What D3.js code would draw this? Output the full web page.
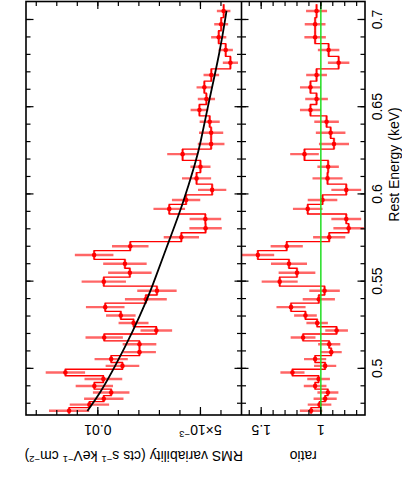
<!DOCTYPE html>
<html><head><meta charset="utf-8">
<script src="https://cdn.jsdelivr.net/npm/d3@7"></script>
<style>
body{margin:0;background:#fff}
svg{display:block}
text{font-family:"Liberation Sans",Arial,Helvetica,sans-serif;fill:#000}
</style>
</head><body>
<svg id="c" width="402" height="491"></svg>
<script>
// ---- data (bin centres in keV) ----
const energy = [0.7049,0.6973,0.6898,0.6825,0.6752,0.6682,0.6611,0.6544,0.6481,0.6414,
  0.6351,0.6286,0.6228,0.6156,0.6089,0.6023,0.5965,0.5914,0.5856,0.5803,
  0.5752,0.5700,0.5650,0.5600,0.5548,0.5497,0.5445,0.5396,0.5351,0.5303,
  0.5260,0.5217,0.5177,0.5138,0.5093,0.5053,0.5014,0.4976,0.4939,0.4899,
  0.4862,0.4826,0.4792,0.4757];
const rms = [0.00387,0.00399,0.00411,0.00377,0.00354,0.00447,0.00481,0.00471,0.00505,0.00455,
  0.00448,0.00448,0.00587,0.00500,0.00519,0.00443,0.00570,0.00652,0.00476,0.00475,
  0.00593,0.00842,0.01018,0.00868,0.00844,0.00971,0.00712,0.00766,0.00964,0.00888,
  0.00826,0.00715,0.00969,0.00797,0.00797,0.00935,0.00880,0.01158,0.00973,0.01017,
  0.00935,0.00971,0.01041,0.01140];
const rmsErr = [0.00033,0.00034,0.00037,0.00035,0.00037,0.00038,0.00038,0.00042,0.00043,0.00049,
  0.00059,0.00065,0.00075,0.00049,0.00071,0.00069,0.00069,0.00077,0.00077,0.00079,
  0.00086,0.00089,0.00094,0.00106,0.00106,0.00108,0.00096,0.00102,0.00094,0.00072,
  0.00073,0.00077,0.00091,0.00082,0.00080,0.00081,0.00082,0.00096,0.00092,0.00091,
  0.00089,0.00096,0.00096,0.00098];
const ratio = [1.036,1.048,1.048,0.935,0.851,1.036,1.087,1.036,1.087,0.952,
  0.918,0.890,1.137,0.939,0.944,0.787,0.986,1.110,0.787,0.767,
  0.930,1.286,1.528,1.267,1.200,1.345,0.969,1.017,1.250,1.129,
  1.031,0.868,1.149,0.930,0.913,1.048,0.964,1.238,1.019,1.048,
  0.941,0.964,1.011,1.082];
const ratioErr = [0.088,0.087,0.090,0.090,0.090,0.087,0.088,0.095,0.088,0.103,
  0.124,0.126,0.120,0.090,0.126,0.125,0.124,0.124,0.125,0.128,
  0.135,0.135,0.137,0.151,0.154,0.151,0.128,0.135,0.122,0.095,
  0.090,0.095,0.104,0.093,0.088,0.093,0.093,0.101,0.095,0.095,
  0.088,0.097,0.099,0.094];
// model curve samples
const modelE   = [0.4756,0.4857,0.5010,0.5220,0.5392,0.5488,0.5751,0.5927,0.6195,0.6290,0.6481,0.6825,0.7049];
const modelRms = [0.01051,0.00989,0.00916,0.00826,0.00761,0.00729,0.00647,0.00590,0.00520,0.00500,0.00468,0.00403,0.00373];
// ticks
const energyMajor = [0.5,0.55,0.6,0.65,0.7];
const energyTickLabels = ["0.5","0.55","0.6","0.65","0.7"];
const energyMinor = [0.48,0.49,0.5,0.51,0.52,0.53,0.54,0.55,0.56,0.57,0.58,0.59,0.6,0.61,0.62,0.63,0.64,0.65,0.66,0.67,0.68,0.69,0.7];
const rmsMajor = [0.005,0.01];
const rmsMinor = [0.004,0.005,0.006,0.007,0.008,0.009,0.01,0.011,0.012,0.013];
const ratioMajor = [1,1.5];
const ratioTickLabels = ["1","1.5"];
const ratioMinor = [0.7,0.8,0.9,1.0,1.1,1.2,1.3,1.4,1.5,1.6];

// ---- layout ----
const svg = d3.select("#c");
const T = 1.5, B = 415, L = 26, M = 241.5, R = 365;
const yE = d3.scaleLinear().domain([0.47326,0.71031]).range([B,T]);
const xV = d3.scaleLinear().domain([0.003,0.0135]).range([M,L]);
const xQ = d3.scaleLinear().domain([0.63,1.665]).range([R,M]);

// bin edges
const edges = [];
for (let i=0;i<energy.length;i++){
  const lo = i<energy.length-1 ? (energy[i]+energy[i+1])/2 : energy[i]-(energy[i-1]-energy[i])/2;
  const hi = i>0 ? (energy[i]+energy[i-1])/2 : energy[i]+(energy[i]-energy[i+1])/2;
  edges.push([lo,hi]);
}

const defs = svg.append("defs");
defs.append("clipPath").attr("id","cl").append("rect").attr("x",L).attr("y",T).attr("width",M-L).attr("height",B-T);
defs.append("clipPath").attr("id","cr").append("rect").attr("x",M).attr("y",T).attr("width",R-M).attr("height",B-T);

function panel(clip, xs, vals, errs){
  const g = svg.append("g").attr("clip-path",`url(#${clip})`);
  const eb = g.append("g").attr("stroke","#ff0000").attr("stroke-opacity",0.6).attr("stroke-width",2.4);
  vals.forEach((v,i)=>{
    eb.append("line").attr("x1",xs(v-errs[i])).attr("x2",xs(v+errs[i]))
      .attr("y1",yE(energy[i])).attr("y2",yE(energy[i]));
    eb.append("line").attr("x1",xs(v)).attr("x2",xs(v))
      .attr("y1",yE(edges[i][0])).attr("y2",yE(edges[i][1]));
  });
  const pts = [];
  vals.forEach((v,i)=>{ pts.push([edges[i][1],v]); pts.push([edges[i][0],v]); });
  g.append("path").datum(pts).attr("fill","none").attr("stroke","#f00").attr("stroke-width",1.3)
    .attr("d",d3.line().x(d=>xs(d[1])).y(d=>yE(d[0])));
  g.append("g").selectAll("circle").data(vals).join("circle")
    .attr("cx",d=>xs(d)).attr("cy",(d,i)=>yE(energy[i])).attr("r",2.3).attr("fill","#f00");
  return g;
}

const gl = panel("cl", xV, rms, rmsErr);
gl.append("path").datum(modelE.map((e,i)=>[e,modelRms[i]]))
  .attr("fill","none").attr("stroke","#000").attr("stroke-width",1.8)
  .attr("d",d3.line().curve(d3.curveBasis).x(d=>xV(d[1])).y(d=>yE(d[0])));

const gr = panel("cr", xQ, ratio, ratioErr);
gr.append("line").attr("x1",xQ(1)).attr("x2",xQ(1)).attr("y1",T).attr("y2",B)
  .attr("stroke","#22dd22").attr("stroke-width",1.5);

// ---- axes (ticks) ----
function ax(gen, tx, ty, vals, size){
  const g = svg.append("g").attr("transform",`translate(${tx},${ty})`)
    .call(gen.tickValues(vals).tickSize(size).tickFormat("").offset(0));
  g.select(".domain").remove();
  g.selectAll("line").attr("stroke","#000").attr("stroke-width",1.2);
}
// energy axis
ax(d3.axisLeft(yE), L, 0, energyMinor, -4.5);
ax(d3.axisLeft(yE), L, 0, energyMajor, -7.5);
ax(d3.axisLeft(yE), M, 0, energyMinor, 4.5);
ax(d3.axisLeft(yE), M, 0, energyMajor, 7);
ax(d3.axisRight(yE), M, 0, energyMinor, 4.5);
ax(d3.axisRight(yE), M, 0, energyMajor, 7);
ax(d3.axisRight(yE), R, 0, energyMinor, -4.5);
ax(d3.axisRight(yE), R, 0, energyMajor, -7.5);
// rms axis
ax(d3.axisTop(xV), 0, B, rmsMinor, 5);
ax(d3.axisTop(xV), 0, B, rmsMajor, 8);
ax(d3.axisBottom(xV), 0, T, rmsMinor, 4.5);
ax(d3.axisBottom(xV), 0, T, rmsMajor, 7.5);
// ratio axis
ax(d3.axisTop(xQ), 0, B, ratioMinor, 5);
ax(d3.axisTop(xQ), 0, B, ratioMajor, 8);
ax(d3.axisBottom(xQ), 0, T, ratioMinor, 4.5);
ax(d3.axisBottom(xQ), 0, T, ratioMajor, 7.5);

// frame
svg.append("rect").attr("x",L).attr("y",T).attr("width",R-L).attr("height",B-T)
  .attr("fill","none").attr("stroke","#000").attr("stroke-width",1.6);
svg.append("line").attr("x1",M).attr("x2",M).attr("y1",T).attr("y2",B)
  .attr("stroke","#000").attr("stroke-width",1.6);

// ---- labels ----
energyMajor.forEach((t,i)=>{
  svg.append("text").attr("transform",`translate(381.5,${yE(t)}) rotate(-90)`)
    .attr("text-anchor","middle").attr("font-size",14).text(energyTickLabels[i]);
});
svg.append("text").attr("transform",`translate(399,164.5) rotate(-90)`)
  .attr("text-anchor","middle").attr("font-size",14).text("Rest Energy (keV)");

// rms tick labels
svg.append("text").attr("transform",`translate(${xV(rmsMajor[1])},425) rotate(180)`)
  .attr("text-anchor","middle").attr("font-size",14).text("0.01");
const t5 = svg.append("text").attr("transform",`translate(${xV(rmsMajor[0])},425) rotate(180)`)
  .attr("text-anchor","middle").attr("font-size",14);
t5.append("tspan").text("5×10");
t5.append("tspan").attr("font-size",9.5).attr("dy",-5.5).text("−3");

ratioMajor.forEach((t,i)=>{
  svg.append("text").attr("transform",`translate(${xQ(t)},425) rotate(180)`)
    .attr("text-anchor","middle").attr("font-size",14).text(ratioTickLabels[i]);
});

// axis titles
const yt = svg.append("text").attr("transform",`translate(${(L+M)/2},450.7) rotate(180)`)
  .attr("text-anchor","middle").attr("font-size",14);
const parts = [["RMS variability (cts s",0],["−1",1],[" keV",0],["−1",1],[" cm",0],["−2",1],[")",0]];
let up=false;
parts.forEach(([s,sup])=>{
  const ts = yt.append("tspan").text(s);
  if (sup && !up){ ts.attr("font-size",9.5).attr("dy",-5.5); up=true; }
  else if (sup){ ts.attr("font-size",9.5); }
  else if (up){ ts.attr("dy",5.5); up=false; }
});
svg.append("text").attr("transform",`translate(${(M+R)/2},450.7) rotate(180)`)
  .attr("text-anchor","middle").attr("font-size",14).text("ratio");
</script>
</body></html>
